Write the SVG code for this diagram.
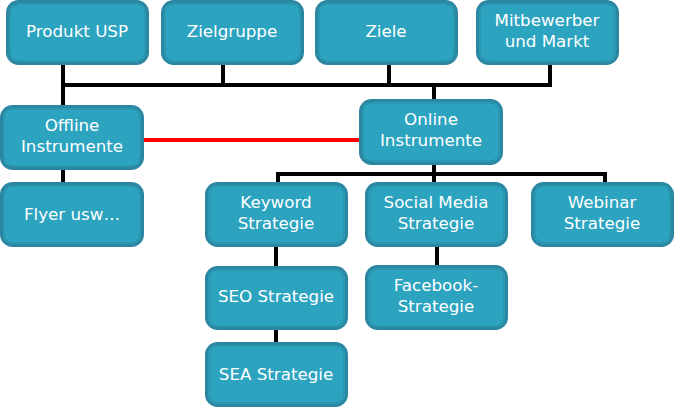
<svg xmlns="http://www.w3.org/2000/svg" width="674" height="408" viewBox="0 0 674 408">
<style>
.box{fill:#2ca3bf;stroke:#2b87a1;stroke-width:3}
.in{fill:none;stroke:#2b8ea9;stroke-width:1}
.t{font-family:"DejaVu Sans",sans-serif;font-size:16.7px;fill:#ffffff;text-anchor:middle}
.c{stroke:#000;stroke-width:4;fill:none;stroke-linecap:square}
.r{stroke:#ff0000;stroke-width:4;fill:none}
</style>
<rect width="674" height="408" fill="#ffffff"/>
<g id="connectors">
<path class="c" d="M63,64 V106 M223,64 V85 M389,64 V85 M550,64 V85 M63,85 H550 M434,85 V100"/>
<path class="c" d="M63,169 V183"/>
<path class="c" d="M434,164 V174 M278,183 V174 H605 V183 M434,174 V183"/>
<path class="c" d="M276,246 V267 M276,329 V343"/>
<path class="c" d="M437,246 V266"/>
<path class="r" d="M143,140 H360"/>
</g>
<g id="produkt"><rect class="box" x="7.5" y="1.5" width="140" height="62" rx="11"/><rect class="in" x="10" y="4" width="135" height="57" rx="9"/><text class="t" x="77" y="37">Produkt USP</text></g>
<g id="zielgruppe"><rect class="box" x="162.5" y="1.5" width="140" height="62" rx="11"/><rect class="in" x="165" y="4" width="135" height="57" rx="9"/><text class="t" x="232" y="37">Zielgruppe</text></g>
<g id="ziele"><rect class="box" x="316.5" y="1.5" width="140" height="62" rx="11"/><rect class="in" x="319" y="4" width="135" height="57" rx="9"/><text class="t" x="386" y="37">Ziele</text></g>
<g id="mitbewerber"><rect class="box" x="477.5" y="1.5" width="140" height="62" rx="11"/><rect class="in" x="480" y="4" width="135" height="57" rx="9"/><text class="t" x="547" y="26">Mitbewerber</text><text class="t" x="547" y="47">und Markt</text></g>
<g id="offline"><rect class="box" x="1.5" y="106.5" width="141" height="62" rx="11"/><rect class="in" x="4" y="109" width="136" height="57" rx="9"/><text class="t" x="72" y="131">Offline</text><text class="t" x="72" y="152">Instrumente</text></g>
<g id="online"><rect class="box" x="360.5" y="100.5" width="141" height="63" rx="11"/><rect class="in" x="363" y="103" width="136" height="58" rx="9"/><text class="t" x="431" y="125">Online</text><text class="t" x="431" y="146">Instrumente</text></g>
<g id="flyer"><rect class="box" x="1.5" y="183.5" width="141" height="62" rx="11"/><rect class="in" x="4" y="186" width="136" height="57" rx="9"/><text class="t" x="72" y="220">Flyer usw…</text></g>
<g id="keyword"><rect class="box" x="206.5" y="183.5" width="140" height="62" rx="11"/><rect class="in" x="209" y="186" width="135" height="57" rx="9"/><text class="t" x="276" y="208">Keyword</text><text class="t" x="276" y="229">Strategie</text></g>
<g id="social"><rect class="box" x="366.5" y="183.5" width="140" height="62" rx="11"/><rect class="in" x="369" y="186" width="135" height="57" rx="9"/><text class="t" x="436" y="208">Social Media</text><text class="t" x="436" y="229">Strategie</text></g>
<g id="webinar"><rect class="box" x="532.5" y="183.5" width="140" height="62" rx="11"/><rect class="in" x="535" y="186" width="135" height="57" rx="9"/><text class="t" x="602" y="208">Webinar</text><text class="t" x="602" y="229">Strategie</text></g>
<g id="seo"><rect class="box" x="206.5" y="267.5" width="140" height="61" rx="11"/><rect class="in" x="209" y="270" width="135" height="56" rx="9"/><text class="t" x="276" y="302">SEO Strategie</text></g>
<g id="facebook"><rect class="box" x="366.5" y="266.5" width="140" height="62" rx="11"/><rect class="in" x="369" y="269" width="135" height="57" rx="9"/><text class="t" x="436" y="291">Facebook-</text><text class="t" x="436" y="312">Strategie</text></g>
<g id="sea"><rect class="box" x="206.5" y="343.5" width="140" height="62" rx="11"/><rect class="in" x="209" y="346" width="135" height="57" rx="9"/><text class="t" x="276" y="380">SEA Strategie</text></g>
</svg>
